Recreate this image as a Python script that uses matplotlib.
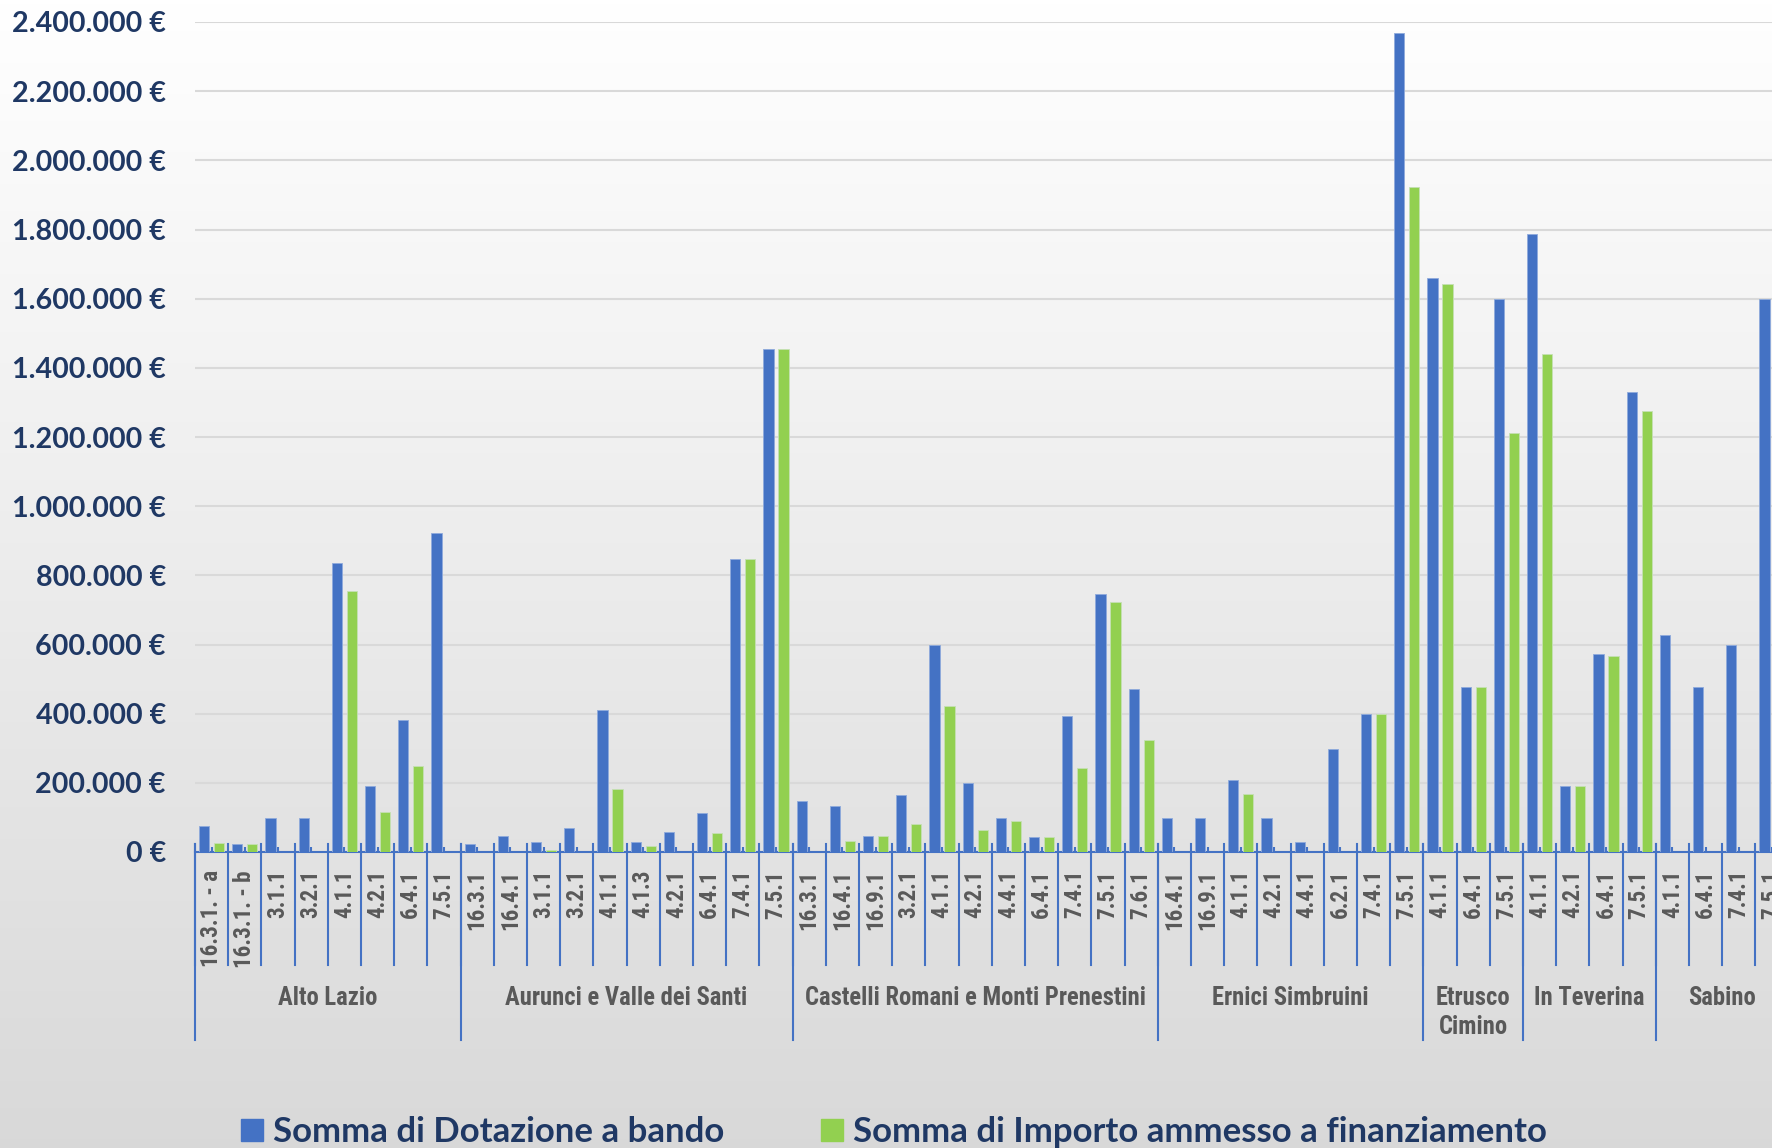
import numpy as np
import matplotlib
matplotlib.use('Agg')
import matplotlib.pyplot as plt
from matplotlib import font_manager as fm
from matplotlib.patches import Patch
from matplotlib.ticker import FuncFormatter, MultipleLocator

# GAL areas and measures (sub-categories)
groups = ['Alto Lazio', 'Aurunci e Valle dei Santi',
          'Castelli Romani e Monti Prenestini', 'Ernici Simbruini',
          'Etrusco\nCimino', 'In Teverina', 'Sabino']

measures = [
    ['16.3.1. - a', '16.3.1. - b', '3.1.1', '3.2.1', '4.1.1', '4.2.1', '6.4.1', '7.5.1'],
    ['16.3.1', '16.4.1', '3.1.1', '3.2.1', '4.1.1', '4.1.3', '4.2.1', '6.4.1', '7.4.1', '7.5.1'],
    ['16.3.1', '16.4.1', '16.9.1', '3.2.1', '4.1.1', '4.2.1', '4.4.1', '6.4.1', '7.4.1', '7.5.1', '7.6.1'],
    ['16.4.1', '16.9.1', '4.1.1', '4.2.1', '4.4.1', '6.2.1', '7.4.1', '7.5.1'],
    ['4.1.1', '6.4.1', '7.5.1'],
    ['4.1.1', '4.2.1', '6.4.1', '7.5.1'],
    ['4.1.1', '6.4.1', '7.4.1', '7.5.1'],
]

# Somma di Dotazione a bando (euro)
dotazione = [
    [75000, 22000, 97000, 97000, 835000, 192000, 382000, 921000],
    [22000, 47000, 29000, 70000, 411000, 28000, 58000, 113000, 846000, 1455000],
    [147000, 133000, 47000, 165000, 598000, 199000, 97000, 44000, 392000, 747000, 472000],
    [98000, 98000, 208000, 98000, 29000, 298000, 398000, 2367000],
    [1659000, 478000, 1598000],
    [1788000, 191000, 573000, 1331000],
    [627000, 478000, 598000, 1598000],
]

# Somma di Importo ammesso a finanziamento (euro)
ammesso = [
    [25000, 22000, 0, 0, 756000, 115000, 248000, 0],
    [0, 0, 5000, 0, 181000, 17000, 0, 54000, 846000, 1455000],
    [0, 33000, 47000, 82000, 421000, 65000, 89000, 44000, 243000, 722000, 324000],
    [0, 0, 167000, 0, 0, 0, 398000, 1924000],
    [1641000, 478000, 1211000],
    [1439000, 191000, 566000, 1276000],
    [0, 0, 0, 0],
]

blue = '#4472C4'
green = '#92D050'
navy = '#1F3864'
grey_txt = '#595959'


def pick_narrow():
    '''First installed narrow sans (with a bold face if possible)'''
    cands = ['Liberation Sans Narrow', 'Arial Narrow', 'Roboto Condensed',
             'Archivo Narrow', 'PT Sans Narrow']
    have = {}
    for f in fm.fontManager.ttflist:
        w = f.weight if isinstance(f.weight, int) else fm.weight_dict.get(f.weight, 400)
        have.setdefault(f.name, []).append(w)
    for c in cands:
        if c in have and max(have[c]) >= 600:
            return c
    for c in cands:
        if c in have:
            return c
    return 'Liberation Sans'


narrow = pick_narrow()
plt.rcParams['font.family'] = ['Lato', 'DejaVu Sans']

W, H = 1772, 1148
fig = plt.figure(figsize=(W / 100, H / 100), dpi=100)
renderer = fig.canvas.get_renderer()


def fit_size(txt, target_px, size_max):
    '''Font size so that txt is target_px wide in the narrow font'''
    t = fig.text(0, 0, txt, fontsize=20, family=narrow, fontweight='bold')
    w = t.get_window_extent(renderer=renderer).width
    t.remove()
    return min(size_max, 20 * target_px / w)


sub_size = fit_size('16.3.1. - a', 97, 18.5)
grp_size = fit_size('Castelli Romani e Monti Prenestini', 340, 18.5)

# background gradient (white on top, light grey at the bottom)
bg = fig.add_axes([0, 0, 1, 1], zorder=-10)
grad = np.linspace(1.0, 0.85, 256).reshape(-1, 1)
bg.imshow(np.dstack([grad, grad, grad]), aspect='auto', extent=[0, 1, 0, 1])
bg.axis('off')

# main axes placed in pixels
x0, x1 = 195, W
y_top, y_base = 22, 852
ax = fig.add_axes([x0 / W, (H - y_base) / H, (x1 - x0) / W, (y_base - y_top) / H])
ax.set_facecolor('none')
ax_h = y_base - y_top

# flatten
labels = [m for g in measures for m in g]
vals_b = np.array([v for g in dotazione for v in g])
vals_g = np.array([v for g in ammesso for v in g])
x = np.arange(len(labels))

bw = 0.31
off = 0.227
ax.bar(x - off, vals_b, bw, color=blue, edgecolor='#8FAADC', linewidth=0.6, zorder=3)
ax.bar(x + off, vals_g, bw, color=green, edgecolor='#C5E0B4', linewidth=0.6, zorder=3)

ax.set_ylim(0, 2400000)
cat_px = 33.23
ax.set_xlim(-0.5, -0.5 + (x1 - x0) / cat_px)

ax.yaxis.set_major_locator(MultipleLocator(200000))
ax.yaxis.set_major_formatter(FuncFormatter(lambda v, p: f'{int(v):,}'.replace(',', '.') + ' €'))
ax.tick_params(axis='y', length=0, pad=21, labelsize=20.6, labelcolor=navy)
for t in ax.get_yticklabels():
    t.set_fontweight('bold')
ax.grid(axis='y', color='#D9D9D9', linewidth=1.5, zorder=0)

for s in ['left', 'right', 'top']:
    ax.spines[s].set_visible(False)
ax.spines['bottom'].set_color(blue)
ax.spines['bottom'].set_linewidth(1.5)

# small marks at category centres
ax.set_xticks(x)
ax.set_xticklabels([])
ax.tick_params(axis='x', direction='in', length=3.5, width=1.5, color=blue)

tr = ax.get_xaxis_transform()
up = 8 / ax_h

# sub category separators and labels
for i in range(len(labels) + 1):
    ax.plot([i - 0.5, i - 0.5], [up, -113 / ax_h], color=blue, lw=1.5,
            transform=tr, clip_on=False, zorder=4)
for i, lab in enumerate(labels):
    ax.text(i, -18 / ax_h, lab, transform=tr, rotation=90, ha='center', va='top',
            fontsize=sub_size, fontweight='bold', color=grey_txt, family=narrow)

# group separators and labels
start = 0
for g, m in zip(groups, measures):
    n = len(m)
    ax.plot([start - 0.5, start - 0.5], [up, -188 / ax_h], color=blue, lw=1.5,
            transform=tr, clip_on=False, zorder=4)
    ax.text(start + (n - 1) / 2, -134 / ax_h, g, transform=tr, ha='center', va='top',
            fontsize=grp_size, fontweight='bold', color=grey_txt, family=narrow,
            linespacing=1.25)
    start += n

# legend
handles = [Patch(color=blue, label='Somma di Dotazione a bando'),
           Patch(color=green, label='Somma di Importo ammesso a finanziamento')]
fig.legend(handles=handles, loc='upper left', bbox_to_anchor=(241 / W, (H - 1116) / H),
           ncol=2, frameon=False, prop={'family': 'Lato', 'weight': 'bold', 'size': 25},
           labelcolor=navy, handlelength=0.62, handleheight=0.62, handletextpad=0.3,
           columnspacing=2.8, borderpad=0, borderaxespad=0)

fig.savefig('out.png', dpi=100)
